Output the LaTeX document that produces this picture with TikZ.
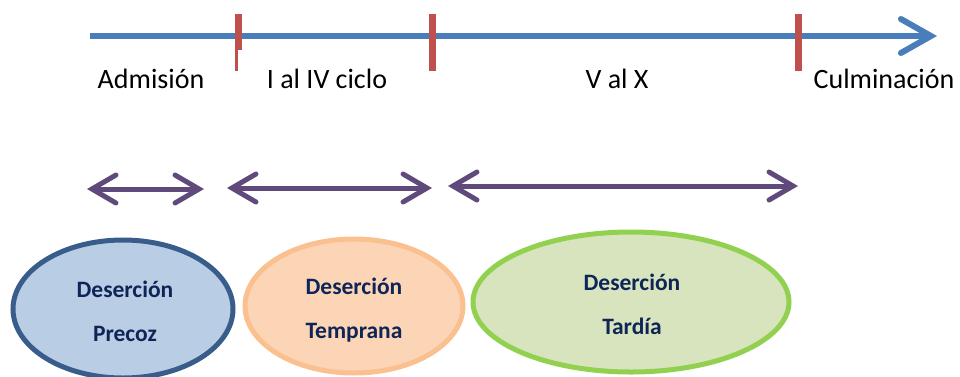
\documentclass[tikz,border=0pt]{standalone}
\usepackage{fontspec}
\setmainfont{Carlito}
\usetikzlibrary{arrows.meta}
\definecolor{axisblue}{HTML}{4A7EBB}
\definecolor{tickred}{HTML}{C0504D}
\definecolor{purp}{HTML}{604A7B}
\definecolor{txtblue}{HTML}{0F2557}
\definecolor{b1fill}{HTML}{B9CDE5}
\definecolor{b1draw}{HTML}{385D8A}
\definecolor{b2fill}{HTML}{FBD5B5}
\definecolor{b2draw}{HTML}{FAC090}
\definecolor{b3fill}{HTML}{D7E4BD}
\definecolor{b3draw}{HTML}{92D050}
\tikzset{
  axis/.style={draw=axisblue, line width=6pt, -{Straight Barb[length=30pt,width=34pt,line cap=round]}},
  tick/.style={draw=tickred, line width=7pt},
  phase/.style={draw=purp, line width=5pt, {Straight Barb[length=24pt,width=28pt,line cap=round]}-{Straight Barb[length=24pt,width=28pt,line cap=round]}},
  lab/.style={font=\fontsize{28}{34}\selectfont, text=black, inner sep=0pt, anchor=base},
  blob/.style={line width=5pt, font=\fontsize{23.5}{44}\selectfont\bfseries, text=txtblue, align=center},
}
\begin{document}
\begin{tikzpicture}[x=1pt,y=-1pt]
\useasboundingbox (0,0) rectangle (960,376);
% axis
\coordinate (a0) at (90,36);
\coordinate (a1) at (937,36);
\draw[axis] (a0) -- (a1);
% ticks
\coordinate (t1a) at (238,14); \coordinate (t1b) at (238,71);
\coordinate (t2a) at (432,14); \coordinate (t2b) at (432,71);
\coordinate (t3a) at (798,14); \coordinate (t3b) at (798,71);
\draw[tick] (t1a) -- (t1b);
\draw[tick] (t2a) -- (t2b);
\draw[tick] (t3a) -- (t3b);
\fill[white] (238,50) rectangle (246,75);
% labels
\node[lab] (adm) at (151,88) {Admisión};
\node[lab] (c1) at (327,88) {I al IV ciclo};
\node[lab] (c2) at (617,88) {V al X};
\node[lab] (cul) at (884,88) {Culminación};
% phase arrows
\coordinate (p1a) at (87,189); \coordinate (p1b) at (204,189);
\coordinate (p2a) at (227,188); \coordinate (p2b) at (432,188);
\coordinate (p3a) at (448,186); \coordinate (p3b) at (798,186);
\draw[phase] (p1a) -- (p1b);
\draw[phase] (p2a) -- (p2b);
\draw[phase] (p3a) -- (p3b);
% ellipses
\draw[blob, draw=b1draw, fill=b1fill] (123,309) ellipse [x radius=110, y radius=69];
\draw[blob, draw=b2draw, fill=b2fill] (354,306) ellipse [x radius=109, y radius=67];
\draw[blob, draw=b3draw, fill=b3fill] (631,302) ellipse [x radius=158, y radius=70];
\node[blob] (e1) at (125,311) {Deserción\\Precoz};
\node[blob] (e2) at (354,310) {Deserción\\Temprana};
\node[blob] (e3) at (632,304) {Deserción\\Tardía};
\end{tikzpicture}
\end{document}
